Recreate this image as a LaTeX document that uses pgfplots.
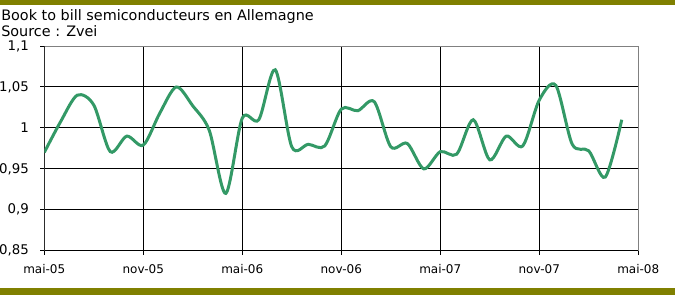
\documentclass[border=0pt]{standalone}
\usepackage{fontspec}
\setmainfont{DejaVu Sans}
\usepackage{pgfplots}
\pgfplotsset{compat=1.18}
\definecolor{olivebar}{RGB}{128,128,0}
\definecolor{seagreen}{RGB}{51,153,102}
\definecolor{bordergray}{RGB}{128,128,128}
\begin{document}
\begin{tikzpicture}[x=0.75pt,y=0.75pt]
\path[use as bounding box] (0,0) rectangle (675,295);
\fill[olivebar] (0,290) rectangle (675,295);
\fill[olivebar] (0,0) rectangle (675,7);
\node[anchor=base west, font=\fontsize{10.8}{13}\selectfont, inner sep=0] at (1,274) {Book to bill semiconducteurs en Allemagne};
\node[anchor=base west, font=\fontsize{10.8}{13}\selectfont, inner sep=0] at (1,258) {Source : Zvei};
\begin{axis}[
  at={(33.2pt,33.2pt)}, anchor=south west,
  scale only axis, width=445.5pt, height=153.5pt,
  xmin=0, xmax=36, ymin=0.85, ymax=1.1,
  xtick={0,6,12,18,24,30},
  xticklabels={mai-05,nov-05,mai-06,nov-06,mai-07,nov-07},
  extra x ticks={36}, extra x tick labels={mai-08},
  extra x tick style={grid=none},
  ytick={0.85,0.9,0.95,1,1.05},
  extra y ticks={1.1},
  extra y tick style={grid=none},
  /pgf/number format/assume math mode=true,
  /pgf/number format/use comma,
  /pgf/number format/fixed,
  grid=major, major grid style={black, line width=0.75pt},
  tick align=outside, major tick length=3pt,
  tick style={black, line width=0.75pt},
  xtick pos=bottom, ytick pos=left,
  axis line style={bordergray, line width=0.75pt},
  xticklabel style={font=\fontsize{9}{11}\selectfont, yshift=-4pt},
  yticklabel style={font=\fontsize{10}{12}\selectfont, xshift=-5pt},
]
\draw[black, line width=0.75pt] (rel axis cs:0,1) -- (rel axis cs:0,0) -- (rel axis cs:1,0);
\addplot[seagreen, line width=2.25pt, smooth, tension=0.5] coordinates {
(0,0.970) (1,1.008) (2,1.040) (3,1.028) (4,0.971) (5,0.990) (6,0.979)
(7,1.018) (8,1.050) (9,1.027) (10,0.997) (11,0.920) (12,1.012) (13,1.010)
(14,1.071) (15,0.977) (16,0.980) (17,0.978) (18,1.023) (19,1.021) (20,1.032)
(21,0.977) (22,0.981) (23,0.950) (24,0.971) (25,0.968) (26,1.010) (27,0.961)
(28,0.990) (29,0.978) (30,1.034) (31,1.052) (32,0.980) (33,0.972) (34,0.940)
(35,1.010)
};
\end{axis}
\end{tikzpicture}
\end{document}
